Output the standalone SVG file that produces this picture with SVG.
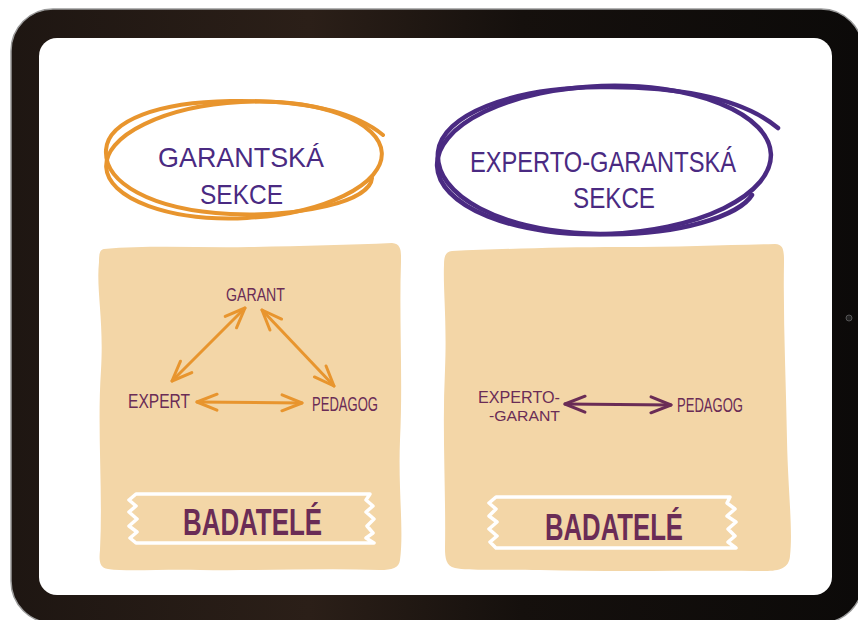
<svg xmlns="http://www.w3.org/2000/svg" width="858" height="620" viewBox="0 0 858 620">
<style>
.title{font-family:"Liberation Sans","DejaVu Sans",sans-serif;fill:#4A2A82;text-anchor:start}
.lbl{font-family:"Liberation Sans","DejaVu Sans",sans-serif;fill:#6A2C56;text-anchor:start}
.bad{font-family:"Liberation Sans","DejaVu Sans",sans-serif;fill:#6A2C56;font-weight:bold;text-anchor:start}
.panel{fill:#F3D6A7}
.tape{fill:none;stroke:#FFFFFF;stroke-width:3.5;stroke-linejoin:round;stroke-linecap:round}
.oring{fill:none;stroke:#E8952E;stroke-width:4;stroke-linecap:round}
.pring{fill:none;stroke:#4A2A82;stroke-width:4.5;stroke-linecap:round}
.oarrow{stroke:#E8952E;stroke-width:3;fill:none;stroke-linecap:round;marker-start:url(#ho);marker-end:url(#ho)}
.parrow{stroke:#6A2C56;stroke-width:3;fill:none;stroke-linecap:round;marker-start:url(#hp);marker-end:url(#hp)}
</style>
<defs>
<linearGradient id="frameg" x1="0" y1="0" x2="1" y2="0">
<stop offset="0" stop-color="#1e1612"/>
<stop offset="0.35" stop-color="#2b1f18"/>
<stop offset="0.6" stop-color="#15100d"/>
<stop offset="1" stop-color="#0c0a09"/>
</linearGradient>
<marker id="ho" viewBox="0 0 24 20" refX="22" refY="10" markerWidth="24" markerHeight="20" markerUnits="userSpaceOnUse" orient="auto-start-reverse">
<path d="M2,2 L22,10 L2,18" fill="none" stroke="#E8952E" stroke-width="3" stroke-linecap="round" stroke-linejoin="round"/>
</marker>
<marker id="hp" viewBox="0 0 24 20" refX="22" refY="10" markerWidth="24" markerHeight="20" markerUnits="userSpaceOnUse" orient="auto-start-reverse">
<path d="M2,2 L22,10 L2,18" fill="none" stroke="#6A2C56" stroke-width="3" stroke-linecap="round" stroke-linejoin="round"/>
</marker>
</defs>

<rect width="858" height="620" fill="#FFFFFF"/>
<g id="tablet">
<rect x="11" y="9" width="852" height="614" rx="42" fill="url(#frameg)" stroke="#9a9a9a" stroke-width="1.5"/>
<rect x="39" y="38" width="793" height="557" rx="18" fill="#FFFFFF"/>
<circle cx="849" cy="318" r="3" fill="#222" stroke="#555" stroke-width="1"/>
</g>

<g id="garantska-sekce">
<ellipse cx="244" cy="160" rx="138" ry="58" transform="rotate(-3 244 160)" class="oring"/>
<path d="M383,135 C350,108 290,100 230,101 C160,102 108,120 106,150 C104,182 150,210 230,214 C300,217 370,202 372,178" class="oring" stroke-width="3"/>
<text class="title" x="158" y="167" font-size="28" textLength="166" lengthAdjust="spacingAndGlyphs">GARANTSKÁ</text>
<text class="title" x="200" y="204" font-size="28" textLength="83" lengthAdjust="spacingAndGlyphs">SEKCE</text>
</g>

<g id="experto-garantska-sekce">
<ellipse cx="604" cy="160" rx="167" ry="74" transform="rotate(-2 604 160)" class="pring"/>
<path d="M778,128 C740,96 670,86 600,87 C510,88 442,115 438,152 C434,195 500,232 600,234 C680,236 740,215 752,195" class="pring" stroke-width="3.5"/>
<text class="title" x="470" y="172" font-size="30" textLength="266" lengthAdjust="spacingAndGlyphs">EXPERTO-GARANTSKÁ</text>
<text class="title" x="573" y="208" font-size="30" textLength="82" lengthAdjust="spacingAndGlyphs">SEKCE</text>
</g>

<g id="panel-left">
<path class="panel" d="M104,249 C150,245 200,248 250,247 C300,246 350,245 392,243 C402,244 401,252 401,262 C399,320 403,380 400,440 C398,490 404,530 400,560 C399,568 392,570 380,570 C320,568 260,571 200,570 C160,569 128,572 108,569 C99,568 99,560 100,550 C103,490 97,430 101,370 C104,320 96,290 99,262 C99,253 100,250 104,249 Z"/>
</g>

<g id="panel-right">
<path class="panel" d="M452,251 C500,249 560,247 620,247 C680,247 730,245 775,244 C784,244 784,252 784,262 C783,320 786,380 787,440 C788,490 793,530 790,556 C789,568 780,571 765,571 C700,570 620,572 540,570 C500,569 470,571 455,568 C446,566 445,558 445,548 C446,490 442,430 445,370 C447,320 443,290 444,265 C444,255 446,252 452,251 Z"/>
</g>

<g id="garant">
<text class="lbl" x="226" y="301" font-size="18" textLength="59" lengthAdjust="spacingAndGlyphs">GARANT</text>
</g>
<g id="expert">
<text class="lbl" x="128" y="408" font-size="20" textLength="62" lengthAdjust="spacingAndGlyphs">EXPERT</text>
</g>
<g id="pedagog-left">
<text class="lbl" x="312" y="411" font-size="20" textLength="66" lengthAdjust="spacingAndGlyphs">PEDAGOG</text>
</g>
<g id="experto-garant">
<text class="lbl" x="478" y="403" font-size="16" textLength="82" lengthAdjust="spacingAndGlyphs">EXPERTO-</text>
<text class="lbl" x="489" y="421" font-size="14" textLength="71" lengthAdjust="spacingAndGlyphs">-GARANT</text>
</g>
<g id="pedagog-right">
<text class="lbl" x="677" y="412" font-size="20" textLength="66" lengthAdjust="spacingAndGlyphs">PEDAGOG</text>
</g>

<g id="badatele-left">
<path class="tape" d="M136,494 L370,494 L366,500 L373,506 L366,512 L374,519 L367,526 L373,533 L366,538 L374,543 L136,543 L130,538 L137,532 L129,526 L137,519 L129,512 L136,506 L129,500 Z"/>
<text class="bad" x="183" y="535" font-size="36" textLength="139" lengthAdjust="spacingAndGlyphs">BADATELÉ</text>
</g>
<g id="badatele-right">
<path class="tape" d="M496,497 L730,497 L727,503 L735,509 L727,516 L736,522 L728,529 L735,536 L728,542 L736,548 L496,548 L490,542 L497,536 L489,529 L497,522 L489,516 L496,509 L489,503 Z"/>
<text class="bad" x="545" y="540" font-size="36" textLength="138" lengthAdjust="spacingAndGlyphs">BADATELÉ</text>
</g>

<g id="connectors">
<line class="oarrow" x1="245" y1="308" x2="172" y2="381"/>
<line class="oarrow" x1="262" y1="310" x2="334" y2="386"/>
<line class="oarrow" x1="197" y1="402" x2="302" y2="403"/>
<line class="parrow" x1="565" y1="404" x2="671" y2="405"/>
</g>
</svg>
